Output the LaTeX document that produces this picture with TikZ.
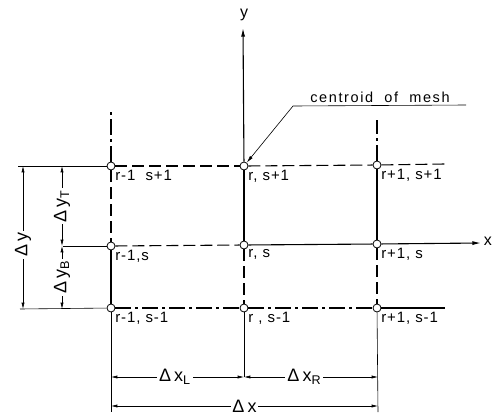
\documentclass[tikz,border=0pt]{standalone}
\usepackage{fontspec}
\setmainfont{Liberation Sans}
\usetikzlibrary{arrows.meta}

\begin{document}
\begin{tikzpicture}[x=1pt,y=-1pt,
  meshpt/.style={circle,draw,fill=white,inner sep=0pt,minimum size=8pt,line width=0.8pt},
  gridln/.style={line width=1.1pt},
  thinln/.style={line width=0.6pt},
  dashln/.style={gridln,dash pattern=on 12pt off 5pt},
  chainln/.style={gridln,dash pattern=on 16pt off 4pt on 3pt off 4pt},
  axis/.style={gridln,-{Latex[length=3mm,width=1.4mm]}},
  dimln/.style={thinln,{Latex[length=2.2mm,width=1.1mm]}-{Latex[length=2.2mm,width=1.1mm]}},
  ptlab/.style={anchor=north west,inner sep=1pt,
    font=\fontsize{15}{16}\selectfont\addfontfeature{LetterSpace=6}},
  dimlab/.style={fill=white,inner sep=2pt,font=\fontsize{18}{19}\selectfont}]
  \useasboundingbox (0,0) rectangle (493,418);
  % mesh points
  \node[meshpt] (lt) at (111,166) {};
  \node[meshpt] (ct) at (244,166) {};
  \node[meshpt] (rt) at (377,165) {};
  \node[meshpt] (lm) at (111,246) {};
  \node[meshpt] (cm) at (244,245) {};
  \node[meshpt] (rm) at (377,244) {};
  \node[meshpt] (lb) at (111,308) {};
  \node[meshpt] (cb) at (244,308) {};
  \node[meshpt] (rb) at (377,308) {};
  \node[ptlab] (lt-l) at (lt.south east) {r-1\ \ s+1};
  \node[ptlab] (ct-l) at (ct.south east) {r, s+1};
  \node[ptlab] (rt-l) at (rt.south east) {r+1, s+1};
  \node[ptlab] (lm-l) at (lm.south east) {r-1,s};
  \node[ptlab] (cm-l) at (cm.south east) {r, s};
  \node[ptlab] (rm-l) at (rm.south east) {r+1, s};
  \node[ptlab] (lb-l) at (lb.south east) {r-1, s-1};
  \node[ptlab] (cb-l) at (cb.south east) {r , s-1};
  \node[ptlab] (rb-l) at (rb.south east) {r+1, s-1};
  % free ends
  \coordinate (ytip) at (243,28);
  \coordinate (xtip) at (481,243);
  \coordinate (ltop) at (111,112);
  \coordinate (rtop) at (377,120);
  \coordinate (lend) at (111,412);
  \coordinate (cend) at (244,377);
  \coordinate (rend) at (378,412);
  \coordinate (tl) at (18,166);
  \coordinate (tr) at (445,164);
  \coordinate (ml) at (63,246);
  \coordinate (bl) at (20,309);
  \coordinate (br) at (445,308);
  % axes
  \draw[axis] (ct) -- (ytip);
  \draw[axis] (rm) -- (xtip);
  \node[font=\fontsize{16}{17}\selectfont] (ylab) at (244,15) {y};
  \node[font=\fontsize{16}{17}\selectfont,anchor=east,inner sep=1pt] (xlab) at (493,241) {x};
  % columns
  \draw[chainln] (lt) -- (ltop);
  \draw[dashln] (lt) -- (lm);
  \draw[gridln] (lm) -- (lb);
  \draw[thinln] (lb) -- (lend);
  \draw[gridln] (ct) -- (cm);
  \draw[dashln] (cm) -- (cb);
  \draw[thinln] (cb) -- (cend);
  \draw[chainln] (rt) -- (rtop);
  \draw[gridln] (rt) -- (rm);
  \draw[dashln] (rm) -- (rb);
  \draw[thinln] (rb) -- (rend);
  % rows
  \draw[thinln] (lt) -- (tl);
  \draw[dashln] (lt) -- (ct);
  \draw[dashln] (ct) -- (rt);
  \draw[dashln] (rt) -- (tr);
  \draw[thinln] (lm) -- (ml);
  \draw[dashln] (lm) -- (cm);
  \draw[gridln] (cm) -- (rm);
  \draw[thinln] (lb) -- (bl);
  \draw[chainln] (lb) -- (cb);
  \draw[chainln] (cb) -- (rb);
  \draw[gridln] (rb) -- (br);
  % dimensions
  \coordinate (dy1) at (23,166);
  \coordinate (dy2) at (23,309);
  \coordinate (dt1) at (62,166);
  \coordinate (dt2) at (62,246);
  \coordinate (db2) at (62,309);
  \coordinate (dl1) at (111,377);
  \coordinate (dl2) at (244,377);
  \coordinate (dr2) at (378,377);
  \coordinate (dx1) at (111,406);
  \coordinate (dx2) at (378,406);
  \draw[dimln] (dy1) -- node[dimlab,rotate=90,pos=0.55] (dylab) {Δ\,y} (dy2);
  \draw[dimln] (dt1) -- node[dimlab,rotate=90] (dtlab) {Δ\,y\textsubscript{T}} (dt2);
  \draw[dimln] (dt2) -- node[dimlab,rotate=90] (dblab) {Δ\,y\textsubscript{B}} (db2);
  \draw[dimln] (dl1) -- node[dimlab,pos=0.48] (dllab) {Δ\,x\textsubscript{L}} (dl2);
  \draw[dimln] (dl2) -- node[dimlab,pos=0.45] (drlab) {Δ\,x\textsubscript{R}} (dr2);
  \draw[dimln] (dx1) -- node[dimlab,pos=0.5,inner sep=1pt] (dxlab) {Δ\,x} (dx2);
  % leader
  \coordinate (cl1) at (293,106);
  \coordinate (cl2) at (466,105);
  \draw[thinln,-{Latex[length=2.5mm,width=1.2mm]}] (cl2) -- (cl1) -- (ct);
  \node[anchor=south,inner sep=2pt,
    font=\fontsize{14.5}{15}\selectfont\addfontfeature{LetterSpace=11}] (cent) at (380,105) {centroid\ \ of\ \ mesh};
\end{tikzpicture}
\end{document}
